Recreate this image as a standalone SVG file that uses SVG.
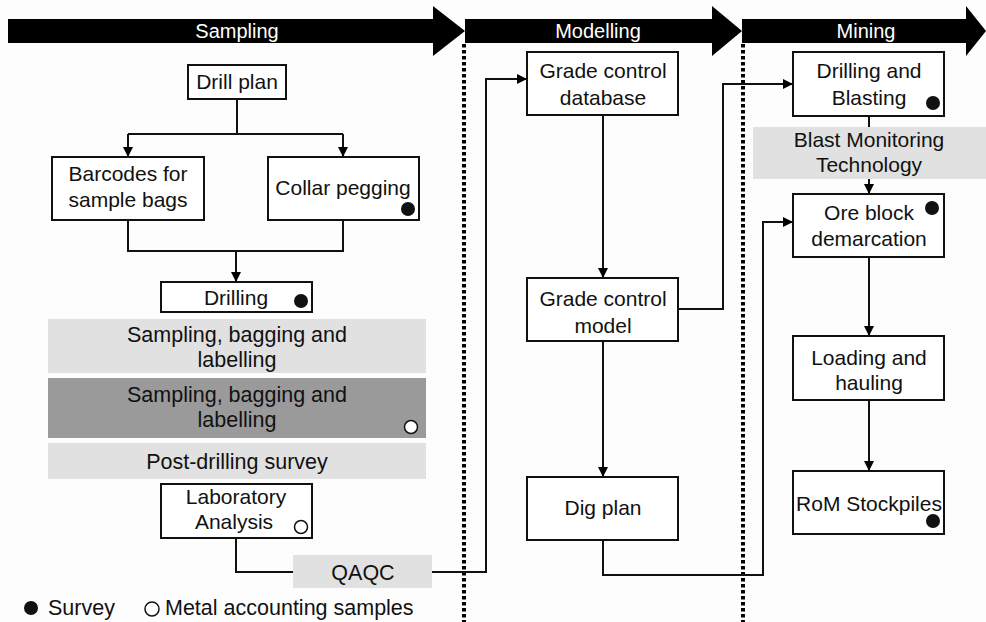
<svg xmlns="http://www.w3.org/2000/svg" width="986" height="622" viewBox="0 0 986 622">
  <defs>
    <marker id="arr" viewBox="0 0 10 10" refX="10" refY="5" markerWidth="10" markerHeight="10" markerUnits="userSpaceOnUse" orient="auto">
      <path d="M0,0 L10,5 L0,10 Z" fill="#000"/>
    </marker>
  </defs>
  <style>
    text { font-family: "Liberation Sans", Arial, sans-serif; font-size: 21px; fill: #111; text-anchor: middle; }
    .hdr { fill: #fff; font-size: 20px; }
    .wide { font-size: 21.5px; }
    .box { fill: #fff; stroke: #111; stroke-width: 2; }
    .light { fill: #e1e1e1; }
    .dark { fill: #9a9a9a; }
    .con { fill: none; stroke: #111; stroke-width: 2; }
    .sep { fill: none; stroke: #000; stroke-width: 4; stroke-dasharray: 3.5 2.5; }
    .dot { fill: #111; }
    .ring { fill: #fff; stroke: #111; stroke-width: 1.5; }
    .leg { text-anchor: start; }
  </style>

  <rect width="986" height="622" fill="#fdfdfd"/>

  <!-- phase banner arrows -->
  <g id="phase-sampling">
    <path d="M8,19 H433 V6 L465,31 L433,56 V43 H8 Z" fill="#000"/>
    <text class="hdr" x="237" y="38">Sampling</text>
  </g>
  <g id="phase-modelling">
    <path d="M465,19 H712 V6 L742,31 L712,56 V43 H465 Z" fill="#000"/>
    <text class="hdr" x="598" y="38">Modelling</text>
  </g>
  <g id="phase-mining">
    <path d="M742,19 H966 V6 L986,31 L966,56 V43 H742 Z" fill="#000"/>
    <text class="hdr" x="866" y="38">Mining</text>
  </g>

  <!-- phase separators -->
  <g id="separators">
    <line class="sep" x1="464" y1="44" x2="464" y2="622"/>
    <line class="sep" x1="743" y1="44" x2="743" y2="622"/>
  </g>

  <!-- connectors -->
  <g id="connectors">
    <path class="con" d="M237,99 V134"/>
    <path class="con" d="M128,134 H343"/>
    <path class="con" d="M128,134 V157" marker-end="url(#arr)"/>
    <path class="con" d="M343,134 V157" marker-end="url(#arr)"/>
    <path class="con" d="M128,220 V251 H343 V220"/>
    <path class="con" d="M236,251 V282" marker-end="url(#arr)"/>
    <path class="con" d="M236,538 V572 H293"/>
    <path class="con" d="M432,572 H486 V79 H527" marker-end="url(#arr)"/>
    <path class="con" d="M603,115 V278" marker-end="url(#arr)"/>
    <path class="con" d="M603,341 V477" marker-end="url(#arr)"/>
    <path class="con" d="M678,309 H723 V84 H793" marker-end="url(#arr)"/>
    <path class="con" d="M603,540 V575 H763 V222 H793" marker-end="url(#arr)"/>
    <path class="con" d="M869,116 V127"/>
    <path class="con" d="M869,179 V194" marker-end="url(#arr)"/>
    <path class="con" d="M869,257 V336" marker-end="url(#arr)"/>
    <path class="con" d="M869,400 V471" marker-end="url(#arr)"/>
  </g>

  <!-- sampling phase -->
  <g id="drill-plan">
    <rect class="box" x="188" y="65" width="98" height="34"/>
    <text x="237" y="89">Drill plan</text>
  </g>
  <g id="barcodes">
    <rect class="box" x="52" y="157" width="152" height="63"/>
    <text x="128" y="181">Barcodes for</text>
    <text x="128" y="207">sample bags</text>
  </g>
  <g id="collar-pegging">
    <rect class="box" x="268" y="157" width="151" height="63"/>
    <text x="343" y="195">Collar pegging</text>
    <circle class="dot" cx="408" cy="209" r="7"/>
  </g>
  <g id="drilling">
    <rect class="box" x="161" y="282" width="151" height="30"/>
    <text x="236" y="305">Drilling</text>
    <circle class="dot" cx="301" cy="301" r="7"/>
  </g>
  <g id="sampling-bagging-1">
    <rect class="light" x="48" y="319" width="378" height="54"/>
    <text class="wide" x="237" y="342">Sampling, bagging and</text>
    <text class="wide" x="237" y="367">labelling</text>
  </g>
  <g id="sampling-bagging-2">
    <rect class="dark" x="48" y="378" width="378" height="60"/>
    <text class="wide" x="237" y="402">Sampling, bagging and</text>
    <text class="wide" x="237" y="427">labelling</text>
    <circle class="ring" cx="411" cy="427" r="6.5"/>
  </g>
  <g id="post-drilling-survey">
    <rect class="light" x="48" y="443" width="378" height="36"/>
    <text class="wide" x="237" y="469">Post-drilling survey</text>
  </g>
  <g id="laboratory-analysis">
    <rect class="box" x="161" y="484" width="151" height="54"/>
    <text x="236" y="504">Laboratory</text>
    <text x="234" y="529">Analysis</text>
    <circle class="ring" cx="301" cy="527" r="6.5"/>
  </g>
  <g id="qaqc">
    <rect class="light" x="293" y="555" width="139" height="33"/>
    <text class="wide" x="363" y="580">QAQC</text>
  </g>

  <!-- modelling phase -->
  <g id="gc-database">
    <rect class="box" x="527" y="52" width="151" height="63"/>
    <text x="603" y="78">Grade control</text>
    <text x="603" y="105">database</text>
  </g>
  <g id="gc-model">
    <rect class="box" x="527" y="278" width="151" height="63"/>
    <text x="603" y="306">Grade control</text>
    <text x="603" y="333">model</text>
  </g>
  <g id="dig-plan">
    <rect class="box" x="527" y="477" width="151" height="63"/>
    <text x="603" y="515">Dig plan</text>
  </g>

  <!-- mining phase -->
  <g id="drilling-blasting">
    <rect class="box" x="793" y="52" width="151" height="64"/>
    <text x="869" y="78">Drilling and</text>
    <text x="869" y="105">Blasting</text>
    <circle class="dot" cx="933" cy="103" r="7"/>
  </g>
  <g id="blast-monitoring">
    <rect class="light" x="753" y="127" width="233" height="52"/>
    <text x="869" y="147">Blast Monitoring</text>
    <text x="869" y="172">Technology</text>
  </g>
  <g id="ore-block">
    <rect class="box" x="793" y="194" width="151" height="63"/>
    <text x="869" y="220">Ore block</text>
    <text x="869" y="246">demarcation</text>
    <circle class="dot" cx="932" cy="208" r="7"/>
  </g>
  <g id="loading-hauling">
    <rect class="box" x="793" y="336" width="151" height="64"/>
    <text x="869" y="365">Loading and</text>
    <text x="869" y="390">hauling</text>
  </g>
  <g id="rom-stockpiles">
    <rect class="box" x="793" y="471" width="151" height="63"/>
    <text x="869" y="511">RoM Stockpiles</text>
    <circle class="dot" cx="933" cy="521" r="7"/>
  </g>

  <!-- legend -->
  <g id="legend">
    <circle class="dot" cx="31" cy="608" r="7"/>
    <text class="leg wide" x="48" y="615">Survey</text>
    <circle class="ring" cx="152" cy="609" r="7"/>
    <text class="leg wide" x="165" y="615">Metal accounting samples</text>
  </g>
</svg>
